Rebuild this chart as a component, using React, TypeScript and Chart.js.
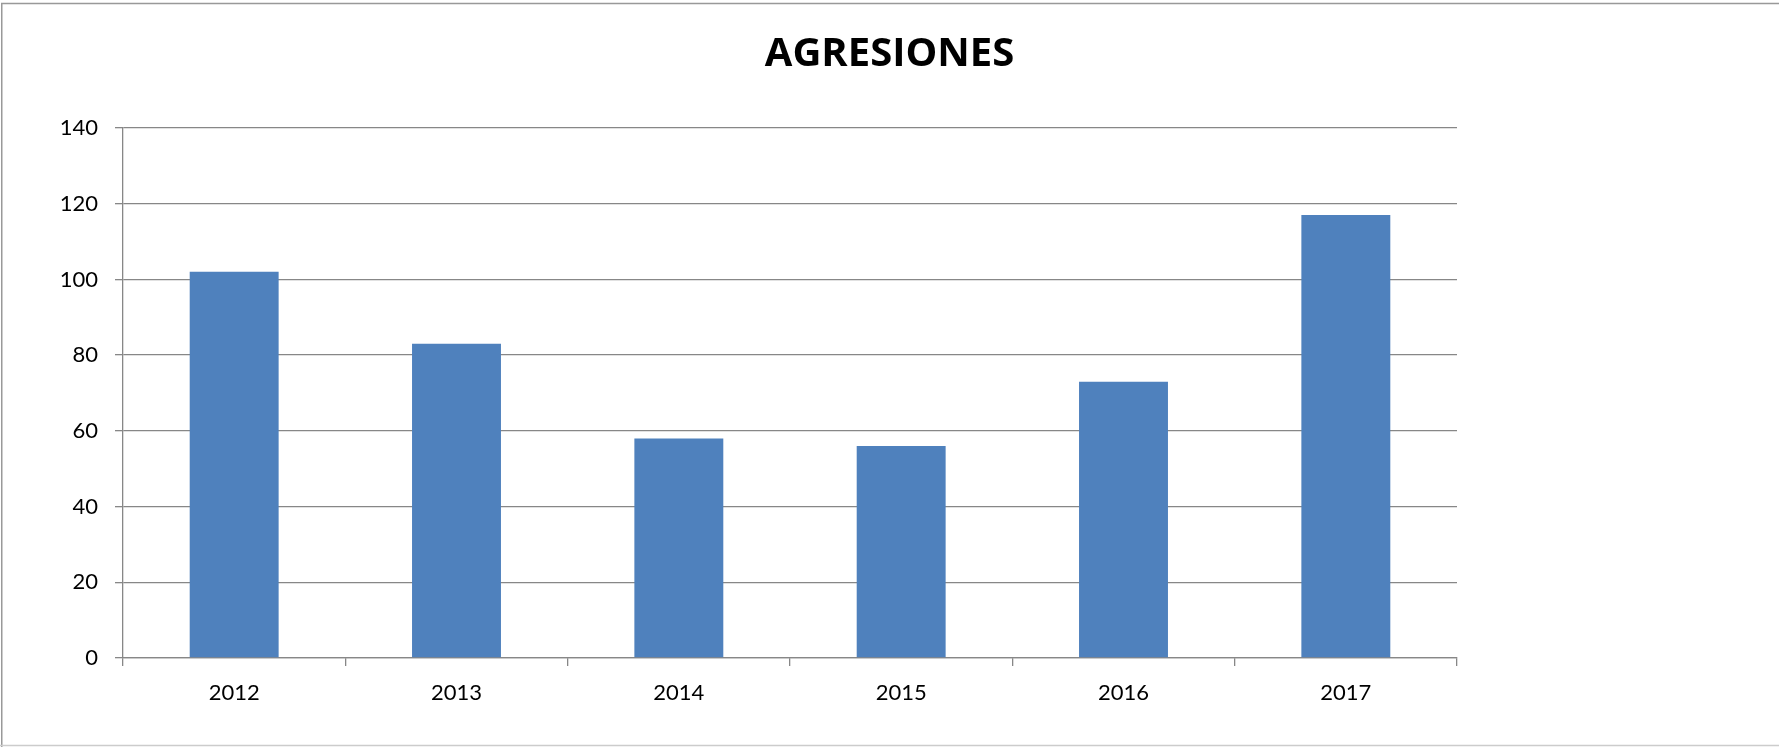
import React, { useEffect, useRef } from "react";
import { Chart, registerables } from "chart.js";

Chart.register(...registerables);

const TITLE = "AGRESIONES";
const years = ["2012", "2013", "2014", "2015", "2016", "2017"];
const agresiones = [102, 83, 58, 56, 73, 117];
const yMax = 140;
const yStep = 20;

const FONT = "Lato, 'Open Sans', sans-serif";
const TITLE_FONT = "'Open Sans', Lato, sans-serif";
const GRID = "#878787";

const frameAndTitle = {
  id: "frameAndTitle",
  afterDraw(chart: any) {
    const ctx = chart.ctx;
    ctx.save();
    ctx.strokeStyle = "#999999";
    ctx.lineWidth = 1.5;
    ctx.beginPath();
    ctx.moveTo(1.75, 900);
    ctx.lineTo(1.75, 3.5);
    ctx.lineTo(2000, 3.5);
    ctx.stroke();
    ctx.strokeStyle = "#cccccc";
    ctx.lineWidth = 1.5;
    ctx.beginPath();
    ctx.moveTo(0, 745.5);
    ctx.lineTo(2000, 745.5);
    ctx.stroke();
    ctx.fillStyle = "#000000";
    ctx.font = `bold 40px ${TITLE_FONT}`;
    ctx.textAlign = "center";
    ctx.textBaseline = "alphabetic";
    ctx.fillText(TITLE, chart.width / 2, 66);
    ctx.restore();
  },
};

export default function App() {
  const ref = useRef<HTMLCanvasElement>(null);
  useEffect(() => {
    if (!ref.current) return;
    const chart = new Chart(ref.current, {
      type: "bar",
      data: {
        labels: years,
        datasets: [
          {
            label: TITLE,
            data: agresiones,
            backgroundColor: "#4f81bd",
            borderWidth: 0,
            barPercentage: 0.4,
            categoryPercentage: 1,
          },
        ],
      },
      options: {
        animation: false,
        responsive: false,
        maintainAspectRatio: false,
        layout: { padding: { top: 128, right: 322, bottom: 0, left: 0 } },
        plugins: {
          legend: { display: false },
          title: { display: false },
          tooltip: { enabled: false },
        },
        scales: {
          x: {
            afterFit: (s: any) => {
              s.height = 89;
            },
            grid: {
              display: true,
              drawOnChartArea: false,
              drawTicks: true,
              tickLength: 8,
              color: GRID,
              lineWidth: 1.3,
              offset: true,
            },
            border: { display: true, color: GRID, width: 1.3 },
            ticks: {
              color: "#000000",
              font: { family: FONT, size: 22 },
              padding: 14,
              maxRotation: 0,
            },
          },
          y: {
            min: 0,
            max: yMax,
            afterFit: (s: any) => {
              s.width = 123;
            },
            grid: {
              color: GRID,
              lineWidth: 1.3,
              drawTicks: true,
              tickLength: 8,
            },
            border: { display: true, color: GRID, width: 1.3 },
            ticks: {
              stepSize: yStep,
              color: "#000000",
              font: { family: FONT, size: 22 },
              padding: 17,
            },
          },
        },
      },
      plugins: [frameAndTitle],
    });
    return () => chart.destroy();
  }, []);
  return (
    <div style={{ position: "fixed", left: 0, top: 0, width: 1779, height: 747, background: "#ffffff" }}>
      <canvas ref={ref} width={1779} height={747} style={{ display: "block" }} />
    </div>
  );
}
